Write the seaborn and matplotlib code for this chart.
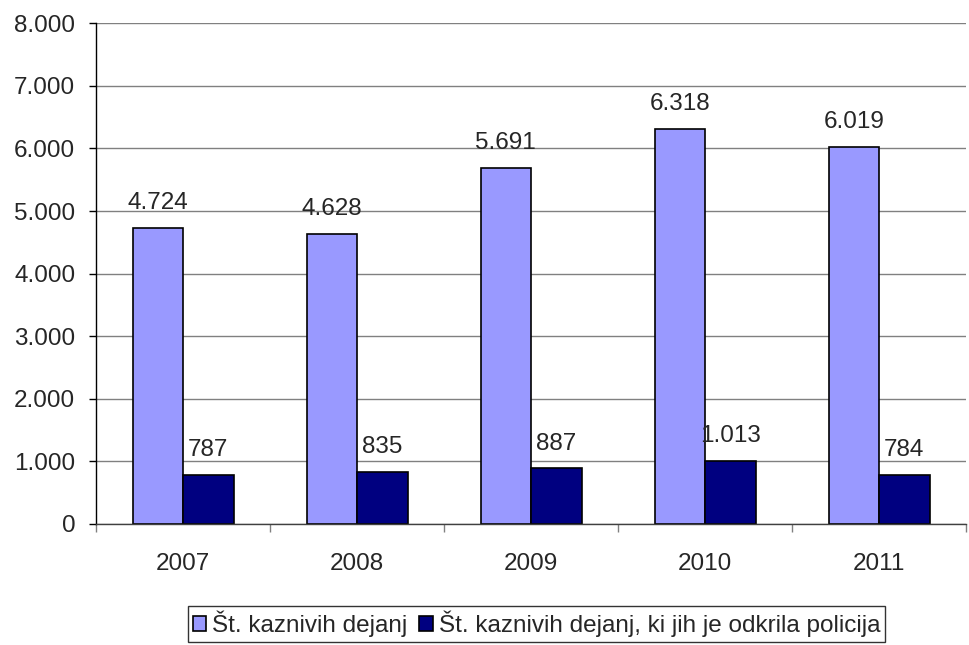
import matplotlib
matplotlib.use("Agg")
import matplotlib.pyplot as plt
import seaborn as sns
import pandas as pd
import numpy as np

years = ["2007", "2008", "2009", "2010", "2011"]
series_names = ["Št. kaznivih dejanj", "Št. kaznivih dejanj, ki jih je odkrila policija"]
total = [4724, 4628, 5691, 6318, 6019]
police = [787, 835, 887, 1013, 784]
yticks = [0, 1000, 2000, 3000, 4000, 5000, 6000, 7000, 8000]

def fmt(v):
    return f"{int(round(v)):,}".replace(",", ".")

df = pd.DataFrame({
    "year": years * 2,
    "value": total + police,
    "series": [series_names[0]] * len(years) + [series_names[1]] * len(years),
})

sns.set_style("white")
plt.rcParams["font.family"] = ["Liberation Sans", "DejaVu Sans"]
FS = 17.5

fig = plt.figure(figsize=(9.7, 6.45), dpi=100)
ax = fig.add_axes([0.099, 0.1876, 0.897, 0.7764])

sns.barplot(data=df, x="year", y="value", hue="series", ax=ax,
            palette=["#9999FF", "#000080"], width=0.58, dodge=True,
            edgecolor="black", linewidth=1.2, saturation=1, legend=True)

ax.set_ylim(0, 8000)
ax.set_xlim(-0.5, len(years) - 0.5)
ax.set_yticks(yticks)
ax.set_yticklabels([fmt(v) for v in yticks])
ax.yaxis.grid(True, color="#808080", linewidth=1)
ax.set_axisbelow(True)
ax.set_xlabel("")
ax.set_ylabel("")

for c in ax.containers:
    ax.bar_label(c, labels=[fmt(v) for v in c.datavalues], padding=10, fontsize=FS)

ax.set_xticks(np.arange(len(years)))
ax.set_xticks(np.arange(len(years) + 1) - 0.5, minor=True)
ax.tick_params(axis="x", which="major", length=0, pad=21, labelsize=FS)
ax.tick_params(axis="x", which="minor", length=6, width=1, color="#808080", bottom=True)
ax.tick_params(axis="y", length=5, width=1, pad=10, labelsize=FS, left=True, color="black")

for s in ["top", "right"]:
    ax.spines[s].set_visible(False)
ax.spines["left"].set_color("black")
ax.spines["bottom"].set_color("#404040")
ax.spines["left"].set_linewidth(1)
ax.spines["bottom"].set_linewidth(1)

handles, labels = ax.get_legend_handles_labels()
ax.get_legend().remove()
leg = fig.legend(handles, labels, loc="center", bbox_to_anchor=(0.553, 0.033), ncol=2,
                 fontsize=FS, frameon=True, fancybox=False, edgecolor="black",
                 handlelength=0.55, handleheight=0.55, handletextpad=0.25,
                 columnspacing=0.5, borderpad=0.2, borderaxespad=0)
leg.get_frame().set_linewidth(1)

fig.savefig("out.png", dpi=100)
